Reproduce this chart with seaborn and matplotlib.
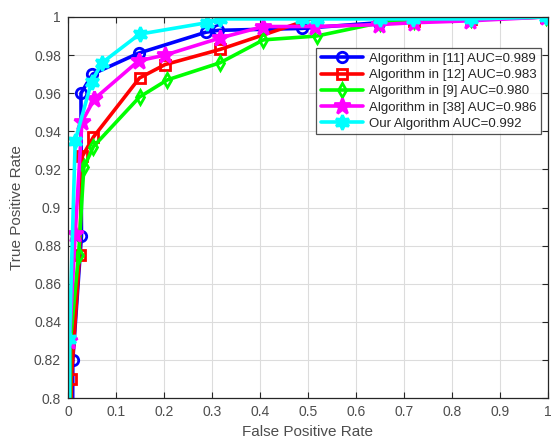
import numpy as np
import pandas as pd
import matplotlib
matplotlib.use("Agg")
import matplotlib.pyplot as plt
import seaborn as sns

# ROC operating points (false positive rate, true positive rate) per method
fpr_11 = [0.0, 0.010, 0.028, 0.027, 0.051, 0.147, 0.287, 0.313, 0.487, 0.647, 0.720, 0.840, 0.995]
tpr_11 = [0.0, 0.820, 0.885, 0.960, 0.970, 0.981, 0.992, 0.993, 0.994, 0.997, 0.998, 0.999, 1.000]

fpr_12 = [0.0, 0.007, 0.024, 0.030, 0.053, 0.149, 0.202, 0.317, 0.518, 0.647, 0.720, 0.840, 0.995]
tpr_12 = [0.0, 0.810, 0.875, 0.927, 0.937, 0.968, 0.975, 0.983, 1.000, 1.000, 0.998, 0.999, 1.000]

fpr_9 = [0.0, 0.005, 0.022, 0.033, 0.053, 0.149, 0.207, 0.317, 0.407, 0.518, 0.650, 0.720, 0.840, 0.995]
tpr_9 = [0.0, 0.830, 0.875, 0.921, 0.932, 0.958, 0.967, 0.976, 0.988, 0.990, 0.997, 0.998, 0.999, 1.000]

fpr_38 = [0.0, 0.003, 0.015, 0.029, 0.055, 0.147, 0.202, 0.317, 0.407, 0.515, 0.647, 0.720, 0.838, 0.995]
tpr_38 = [0.0, 0.830, 0.886, 0.945, 0.957, 0.977, 0.980, 0.989, 0.995, 0.995, 0.996, 0.997, 0.998, 1.000]

fpr_ours = [0.0, 0.003, 0.015, 0.049, 0.071, 0.149, 0.289, 0.317, 0.487, 0.518, 0.649, 0.719, 0.840, 0.995]
tpr_ours = [0.0, 0.831, 0.935, 0.966, 0.976, 0.991, 0.997, 0.999, 0.999, 0.999, 0.999, 0.999, 0.999, 1.000]

labels = [
    "Algorithm in [11] AUC=0.989",
    "Algorithm in [12] AUC=0.983",
    "Algorithm in [9] AUC=0.980",
    "Algorithm in [38] AUC=0.986",
    "Our Algorithm AUC=0.992",
]
fprs = [fpr_11, fpr_12, fpr_9, fpr_38, fpr_ours]
tprs = [tpr_11, tpr_12, tpr_9, tpr_38, tpr_ours]

x_ticks = [0, 0.1, 0.2, 0.3, 0.4, 0.5, 0.6, 0.7, 0.8, 0.9, 1]
x_tick_labels = ["0", "0.1", "0.2", "0.3", "0.4", "0.5", "0.6", "0.7", "0.8", "0.9", "1"]
y_ticks = [0.8, 0.82, 0.84, 0.86, 0.88, 0.9, 0.92, 0.94, 0.96, 0.98, 1.0]
y_tick_labels = ["0.8", "0.82", "0.84", "0.86", "0.88", "0.9", "0.92", "0.94", "0.96", "0.98", "1"]

colors = ["#0000ff", "#ff0000", "#00ff00", "#ff00ff", "#00ffff"]
markers = ["o", "s", "d", "*", (6, 1, 0)]
msizes = [7.5, 6.5, 7.5, 12, 10.5]
filled = [False, False, False, True, True]

sns.set_style("white")
plt.rcParams["font.family"] = ["Liberation Sans", "DejaVu Sans"]

fig = plt.figure(figsize=(5.53, 4.46), dpi=100)
ax = fig.add_axes([68 / 553, 1 - 398 / 446, 480 / 553, 381 / 446])

for lab, fx, ty, c, m, ms, fl in zip(labels, fprs, tprs, colors, markers, msizes, filled):
    df = pd.DataFrame({"fpr": fx, "tpr": ty})
    sns.lineplot(
        data=df, x="fpr", y="tpr", ax=ax, sort=False, estimator=None,
        color=c, linewidth=2.6, marker=m, markersize=ms,
        markerfacecolor=(c if fl else "none"), markeredgecolor=c,
        markeredgewidth=2.0, label=lab, clip_on=True,
    )

ax.set_xlim(0, 1)
ax.set_ylim(0.8, 1.0)
ax.set_xticks(x_ticks)
ax.set_xticklabels(x_tick_labels)
ax.set_yticks(y_ticks)
ax.set_yticklabels(y_tick_labels)
ax.grid(True, color="#dcdcdc", linewidth=0.8)
ax.set_axisbelow(True)
for s in ax.spines.values():
    s.set_color("#262626")
    s.set_linewidth(0.9)
ax.tick_params(direction="in", length=4, color="#262626", labelcolor="#4d4d4d",
               labelsize=10, top=True, right=True, bottom=True, left=True, pad=5)
ax.set_xlabel("False Positive Rate", fontsize=11, color="#4d4d4d", labelpad=4)
ax.set_ylabel("True Positive Rate", fontsize=11, color="#4d4d4d", labelpad=7)

leg = ax.legend(loc="upper right", bbox_to_anchor=(0.985, 0.918), fontsize=9.5,
                frameon=True, fancybox=False, borderpad=0.35, labelspacing=0.3,
                handlelength=3.2, handletextpad=0.4, borderaxespad=0)
leg.get_frame().set_edgecolor("#262626")
leg.get_frame().set_linewidth(0.9)
for t in leg.get_texts():
    t.set_color("#262626")

fig.savefig("out.png", dpi=100)
